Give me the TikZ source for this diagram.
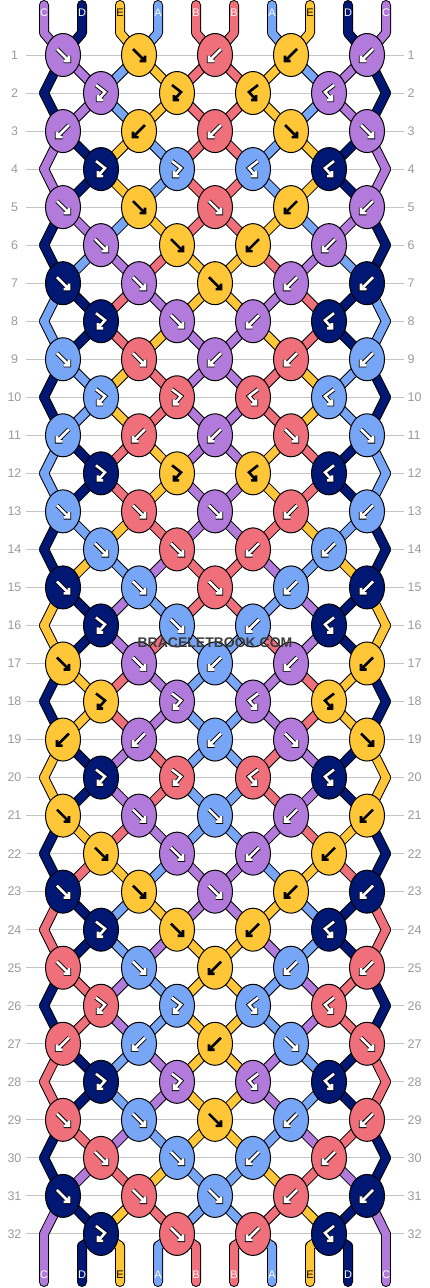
\documentclass[tikz,border=0pt]{standalone}
\usepackage{fontspec}
\setmainfont{Liberation Sans}
\usetikzlibrary{shapes.geometric,backgrounds}

\definecolor{colA}{HTML}{78A6F7}
\definecolor{colB}{HTML}{EF6F7B}
\definecolor{colC}{HTML}{B27BDB}
\definecolor{colD}{HTML}{001874}
\definecolor{colE}{HTML}{FFC638}
\colorlet{arrA}{white}\colorlet{arrB}{white}\colorlet{arrC}{white}
\colorlet{arrD}{white}\colorlet{arrE}{black}
\colorlet{rimA}{black}\colorlet{rimB}{black}\colorlet{rimC}{black}
\colorlet{rimD}{black}\colorlet{rimE}{colE}
\colorlet{txtA}{white}\colorlet{txtB}{white}\colorlet{txtC}{white}
\colorlet{txtD}{white}\colorlet{txtE}{black}
\definecolor{rowgray}{HTML}{9A9A9A}
\definecolor{linegray}{HTML}{C4C4C4}
\definecolor{wmgray}{HTML}{3C3C3C}

\tikzset{
  knot/.style={shape=ellipse,draw=black,line width=1pt,fill=col#1,
    minimum width=35pt,minimum height=43pt,inner sep=0pt},
  rownum/.style={text=rowgray,font=\fontsize{12.5}{13}\selectfont,inner sep=0pt},
  strlabel/.style={text=txt#1,font=\fontsize{11}{12}\selectfont,inner sep=0pt},
  glyph/.style={line width=#1,line cap=square,line join=miter},
  wmark/.style={font=\fontsize{14}{15}\selectfont\bfseries,inner sep=0pt},
}

% knot symbols
\newcommand\glyphF{(-6,-6) -- (6,6) (0.5,6) -- (6,6) -- (6,0.5)}
\newcommand\glyphB{(6,-6) -- (-6,6) (-0.5,6) -- (-6,6) -- (-6,0.5)}
\newcommand\glyphFB{(-5,-8) -- (4,-1) -- (-3,7) (-3,2) -- (-3,7) -- (2,7)}
\newcommand\glyphBF{(5,-8) -- (-4,-1) -- (3,7) (3,2) -- (3,7) -- (-2,7)}

% point of string #3 in row #2
\newcommand\setpt[3]{%
  \pgfmathtruncatemacro\tmpodd{mod(#2,2)}%
  \ifnum\tmpodd=1
    \pgfmathtruncatemacro\tmpc{div(#3,2)}%
    \edef#1{k-#2-\tmpc.center}%
  \else
    \ifnum#3=0 \edef#1{eL-#2}%
    \else\ifnum#3=9 \edef#1{eR-#2}%
    \else\pgfmathtruncatemacro\tmpc{div(#3-1,2)}\edef#1{k-#2-\tmpc.center}%
    \fi\fi
  \fi}

\newcommand\strands[2]{%
  \foreach \col [count=\p from 0] in {C,D,E,A,B,B,A,E,D,C} {
    \pgfmathtruncatemacro\c{div(\p,2)}
    \draw[line width=#1,draw=#2,line cap=round,line join=round]
      (t-\p) -- (tb-\p) -- (k-1-\c.center);
  }
  \foreach \r/\ord in {
    1/{D,C,A,E,B,B,E,A,C,D}, 2/{D,C,A,E,B,B,E,A,C,D},
    3/{C,D,E,A,B,B,A,E,D,C}, 4/{C,D,E,A,B,B,A,E,D,C},
    5/{D,C,A,E,B,B,E,A,C,D}, 6/{D,A,C,B,E,E,B,C,A,D},
    7/{A,D,B,C,E,E,C,B,D,A}, 8/{A,D,B,E,C,C,E,B,D,A},
    9/{D,A,E,B,C,C,B,E,A,D}, 10/{D,A,E,B,C,C,B,E,A,D},
    11/{A,D,B,E,C,C,E,B,D,A}, 12/{A,D,B,E,C,C,E,B,D,A},
    13/{D,A,E,B,C,C,B,E,A,D}, 14/{D,E,A,C,B,B,C,A,E,D},
    15/{E,D,C,A,B,B,A,C,D,E}, 16/{E,D,C,B,A,A,B,C,D,E},
    17/{D,E,B,C,A,A,C,B,E,D}, 18/{D,E,B,C,A,A,C,B,E,D},
    19/{E,D,C,B,A,A,B,C,D,E}, 20/{E,D,C,B,A,A,B,C,D,E},
    21/{D,E,B,C,A,A,C,B,E,D}, 22/{D,B,E,A,C,C,A,E,B,D},
    23/{B,D,A,E,C,C,E,A,D,B}, 24/{B,D,A,C,E,E,C,A,D,B},
    25/{D,B,C,A,E,E,A,C,B,D}, 26/{D,B,C,A,E,E,A,C,B,D},
    27/{B,D,A,C,E,E,C,A,D,B}, 28/{B,D,A,C,E,E,C,A,D,B},
    29/{D,B,C,A,E,E,A,C,B,D}, 30/{D,C,B,E,A,A,E,B,C,D},
    31/{C,D,E,B,A,A,B,E,D,C}} {
    \pgfmathtruncatemacro\rn{\r+1}
    \foreach \col [count=\p from 0] in \ord {
      \setpt\src{\r}{\p}\setpt\dst{\rn}{\p}
      \draw[line width=#1,draw=#2,line cap=round,line join=round] (\src) -- (\dst);
    }
  }
  \foreach \col [count=\p from 0] in {C,D,E,A,B,B,A,E,D,C} {
    \setpt\src{32}{\p}
    \draw[line width=#1,draw=#2,line cap=round,line join=round]
      (\src) -- (bb-\p) -- (b-\p);
  }
}

\begin{document}
\begin{tikzpicture}[x=1pt,y=-1pt]
\useasboundingbox (0,0) rectangle (430,1288);

% row guides
\begin{pgfonlayer}{background}
\foreach \r in {1,...,32} {
  \pgfmathsetmacro\y{55+38.03*(\r-1)}
  \draw[linegray,line width=1pt] (26,\y) -- (404,\y);
  \node[rownum] (nl-\r) at (14.5,\y) {\r};
  \node[rownum,anchor=west] (nr-\r) at (407.5,\y) {\r};
}
\end{pgfonlayer}

% string ends and edge turns
\foreach \p in {0,...,9} {
  \coordinate (t-\p) at ({44+38*\p},5);
  \coordinate (tb-\p) at ({44+38*\p},33);
  \coordinate (bb-\p) at ({44+38*\p},1246);
  \coordinate (b-\p) at ({44+38*\p},1282);
}
\foreach \r in {2,4,...,32} {
  \pgfmathsetmacro\y{55+38.03*(\r-1)}
  \coordinate (eL-\r) at (44,\y);
  \coordinate (eR-\r) at (386,\y);
}

% knots
\foreach \r/\knots in {
  1/{C/F,E/F,B/B,E/B,C/B}, 2/{C/FB,E/FB,E/BF,C/BF},
  3/{C/B,E/B,B/B,E/F,C/F}, 4/{D/FB,A/FB,A/BF,D/BF},
  5/{C/F,E/F,B/F,E/B,C/B}, 6/{C/F,E/F,E/B,C/B},
  7/{D/F,C/F,E/F,C/B,D/B}, 8/{D/FB,C/F,C/B,D/BF},
  9/{A/F,B/F,C/B,B/B,A/B}, 10/{A/FB,B/FB,B/BF,A/BF},
  11/{A/B,B/B,C/B,B/F,A/F}, 12/{D/FB,E/FB,E/BF,D/BF},
  13/{A/F,B/F,C/F,B/B,A/B}, 14/{A/F,B/F,B/B,A/B},
  15/{D/F,A/F,B/F,A/B,D/B}, 16/{D/FB,A/F,A/B,D/BF},
  17/{E/F,C/F,A/B,C/B,E/B}, 18/{E/FB,C/FB,C/BF,E/BF},
  19/{E/B,C/B,A/B,C/F,E/F}, 20/{D/FB,B/FB,B/BF,D/BF},
  21/{E/F,C/F,A/F,C/B,E/B}, 22/{E/F,C/F,C/B,E/B},
  23/{D/F,E/F,C/F,E/B,D/B}, 24/{D/FB,E/F,E/B,D/BF},
  25/{B/F,A/F,E/B,A/B,B/B}, 26/{B/FB,A/FB,A/BF,B/BF},
  27/{B/B,A/B,E/B,A/F,B/F}, 28/{D/FB,C/FB,C/BF,D/BF},
  29/{B/F,A/F,E/F,A/B,B/B}, 30/{B/F,A/F,A/B,B/B},
  31/{D/F,B/F,A/F,B/B,D/B}, 32/{D/FB,B/F,B/B,D/BF}} {
  \pgfmathsetmacro\y{55+38.03*(\r-1)}
  \pgfmathsetmacro\xo{mod(\r,2)==1 ? 63 : 101}
  \foreach \k/\t [count=\c from 0] in \knots {
    \pgfmathsetmacro\x{\xo+76*\c}
    \node[knot=\k] (k-\r-\c) at (\x,\y) {};
    \expandafter\let\expandafter\gpath\csname glyph\t\endcsname
    \draw[glyph=4.4pt,draw=rim\k,shift={(\x,\y)}] \gpath;
    \draw[glyph=2.6pt,draw=arr\k,shift={(\x,\y)}] \gpath;
  }
}

% threads
\begin{pgfonlayer}{background}
\strands{10pt}{black}
\strands{8pt}{col\col}
\end{pgfonlayer}

% letters on the strings
\foreach \s [count=\p from 0] in {C,D,E,A,B,B,A,E,D,C} {
  \node[strlabel=\s] (lt-\p) at ({44+38*\p},13) {\s};
  \node[strlabel=\s] (lb-\p) at ({44+38*\p},1275) {\s};
}

% watermark
\node[wmark,text=wmgray] (wm) at (215,643) {BRACELETBOOK.COM};
\end{tikzpicture}
\end{document}
